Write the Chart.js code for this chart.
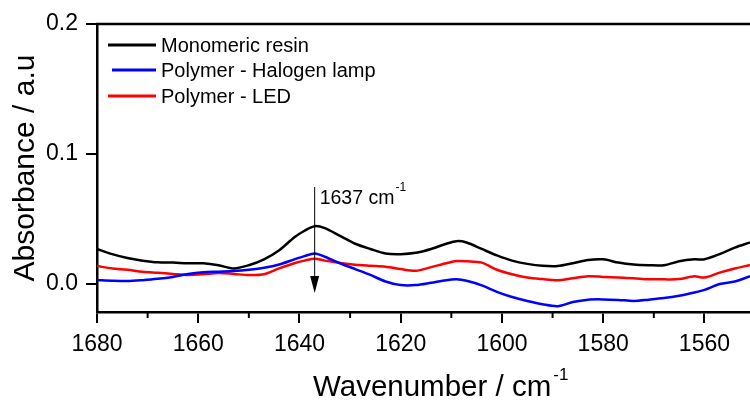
<!DOCTYPE html>
<html>
<head>
<meta charset="utf-8">
<script src="https://cdn.jsdelivr.net/npm/chart.js@4"></script>
<style>
html,body{margin:0;padding:0;background:#fff;}
#wrap{position:relative;width:750px;height:402px;}
</style>
</head>
<body>
<div id="wrap"><canvas id="c" width="750" height="402"></canvas></div>
<script>
const wavenumbers = [1680,1677,1674,1671,1668,1665,1662,1659,1656,1653,1650,1647,1644,1641,1639,1637,1635,1632,1629,1626,1623,1620,1617,1614,1611,1609,1607,1604,1601,1598,1595,1592,1589,1586,1583,1580,1577,1574,1571,1568,1565,1562,1560,1557,1554,1551];
const monomericResin = [0.027,0.023,0.020,0.018,0.0167,0.0165,0.016,0.016,0.0145,0.012,0.0145,0.019,0.026,0.036,0.041,0.0445,0.043,0.037,0.031,0.027,0.0235,0.023,0.024,0.027,0.031,0.033,0.032,0.027,0.022,0.018,0.0155,0.014,0.0138,0.016,0.0185,0.019,0.0165,0.015,0.0145,0.0145,0.0175,0.019,0.019,0.023,0.028,0.032];
const polymerHalogen = [0.003,0.0025,0.0023,0.003,0.004,0.0055,0.0077,0.009,0.0095,0.010,0.011,0.0125,0.015,0.019,0.0215,0.0235,0.021,0.016,0.0115,0.007,0.002,-0.0008,-0.0008,0.001,0.003,0.0036,0.0025,-0.001,-0.006,-0.010,-0.013,-0.0155,-0.017,-0.0138,-0.012,-0.0118,-0.0122,-0.013,-0.012,-0.0108,-0.009,-0.0065,-0.0045,0.0,0.002,0.006];
const polymerLED = [0.0138,0.012,0.011,0.0095,0.0087,0.0078,0.007,0.0075,0.0085,0.0078,0.0069,0.0075,0.012,0.016,0.018,0.0195,0.018,0.0162,0.0148,0.014,0.0133,0.0115,0.0102,0.013,0.016,0.0177,0.0175,0.0165,0.011,0.0075,0.005,0.0038,0.003,0.0045,0.006,0.0055,0.005,0.0045,0.0037,0.0036,0.0038,0.006,0.005,0.0088,0.012,0.0146];
const seriesLabels = ["Monomeric resin","Polymer - Halogen lamp","Polymer - LED"];
const seriesColors = ["#000000","#0000ff","#ff0000"];
const xTitle = "Wavenumber / cm";
const yTitle = "Absorbance / a.u";
const peakPosition = 1637;
const peakLabel = "1637 cm";

const FONT = "'Liberation Sans', Arial, sans-serif";
function pts(ys){ return wavenumbers.map((x,i)=>({x:x,y:ys[i]})); }

const decor = {
  id:'decor',
  afterDraw(chart){
    const ctx = chart.ctx, a = chart.chartArea;
    const xs = chart.scales.x, ys = chart.scales.y;
    ctx.save();
    // top border
    ctx.strokeStyle='#000'; ctx.lineWidth=2.5;
    ctx.beginPath(); ctx.moveTo(a.left-1, a.top); ctx.lineTo(a.right, a.top); ctx.stroke();
    // minor ticks
    ctx.lineWidth=2;
    xs.ticks.forEach(t=>{
      if (Math.round(t.value)%20!==0){
        const px = xs.getPixelForValue(t.value);
        ctx.beginPath(); ctx.moveTo(px, a.bottom); ctx.lineTo(px, a.bottom+6); ctx.stroke();
      }
    });
    // legend
    const rows=[45,70,96];
    chart.data.datasets.forEach((ds,i)=>{
      ctx.strokeStyle=ds.borderColor; ctx.lineWidth=3;
      ctx.beginPath(); ctx.moveTo(i===1?112:108, rows[i]); ctx.lineTo(156, rows[i]); ctx.stroke();
      ctx.fillStyle='#000'; ctx.font='20px '+FONT; ctx.textAlign='left'; ctx.textBaseline='alphabetic';
      ctx.fillText(ds.label, 161, rows[i]+7);
    });
    // annotation arrow
    const ax = xs.getPixelForValue(peakPosition);
    ctx.strokeStyle='#000'; ctx.lineWidth=1;
    ctx.beginPath(); ctx.moveTo(ax, 187); ctx.lineTo(ax, 280); ctx.stroke();
    ctx.fillStyle='#000';
    ctx.beginPath(); ctx.moveTo(ax-4.5, 276); ctx.lineTo(ax+4.5, 276); ctx.lineTo(ax, 293); ctx.closePath(); ctx.fill();
    ctx.font='19.5px '+FONT; ctx.textAlign='left';
    ctx.fillText(peakLabel, ax+5, 204);
    const w1 = ctx.measureText(peakLabel).width;
    ctx.font='12px '+FONT;
    ctx.fillText('-1', ax+5+w1+1, 191);
    // x title
    ctx.font='29.5px '+FONT;
    ctx.fillText(xTitle, 313, 396);
    const w2 = ctx.measureText(xTitle).width;
    ctx.font='17px '+FONT;
    ctx.fillText('-1', 313+w2+2, 380);
    // y title
    ctx.translate(34, 168);
    ctx.rotate(-Math.PI/2);
    ctx.font='30px '+FONT; ctx.textAlign='center';
    ctx.fillText(yTitle, 0, 0);
    ctx.restore();
  }
};

new Chart(document.getElementById('c'), {
  type:'line',
  data:{
    datasets:[
      {label:seriesLabels[0], data:pts(monomericResin), borderColor:seriesColors[0]},
      {label:seriesLabels[1], data:pts(polymerHalogen), borderColor:seriesColors[1]},
      {label:seriesLabels[2], data:pts(polymerLED), borderColor:seriesColors[2]}
    ].map(d=>Object.assign(d,{borderWidth:2.5,pointRadius:0,tension:0.3,fill:false}))
  },
  options:{
    responsive:false, animation:false,
    layout:{padding:{top:24,right:0,left:0,bottom:0}},
    plugins:{legend:{display:false},tooltip:{enabled:false}},
    scales:{
      x:{type:'linear', reverse:true, min:1551, max:1680,
        afterFit(s){ s.height=90; },
        border:{display:true,color:'#000',width:2.5},
        grid:{drawOnChartArea:false, drawTicks:true, tickLength:11, lineWidth:2,
          color:(c)=> (c.tick && Math.round(c.tick.value)%20===0) ? '#000' : 'rgba(0,0,0,0)'},
        ticks:{stepSize:10, includeBounds:false, autoSkip:false, maxRotation:0, color:'#000', padding:8,
          font:{family:FONT,size:23},
          callback:(v)=> (Math.round(v)%20===0 ? String(v) : '')}
      },
      y:{type:'linear', min:-0.0215, max:0.2,
        afterFit(s){ s.width=97; },
        border:{display:true,color:'#000',width:2.5},
        grid:{drawOnChartArea:false, drawTicks:true, tickLength:11, lineWidth:2, color:'#000'},
        ticks:{stepSize:0.1, includeBounds:false, color:'#000', padding:8,
          font:{family:FONT,size:23},
          callback:(v)=> v.toFixed(1)}
      }
    }
  },
  plugins:[decor]
});
</script>
</body>
</html>
